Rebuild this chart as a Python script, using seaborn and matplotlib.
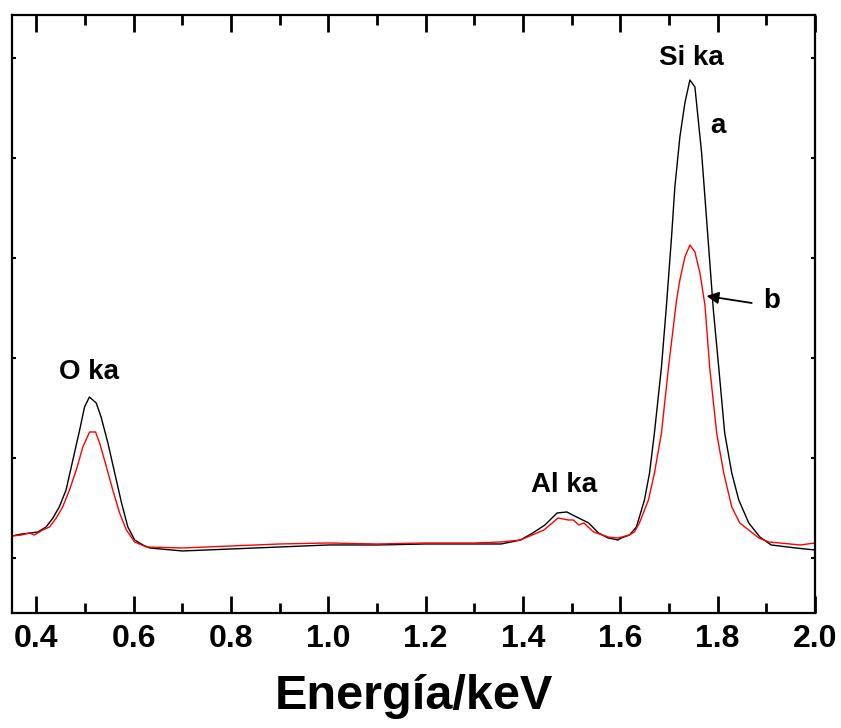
import numpy as np
import pandas as pd
import matplotlib
matplotlib.use("Agg")
import matplotlib.pyplot as plt
from matplotlib.ticker import MultipleLocator
import seaborn as sns

# Spectrum a (black)
energy_a = [0.35, 0.37, 0.389, 0.403, 0.420, 0.434, 0.447, 0.461, 0.475, 0.489, 0.499,
            0.509, 0.523, 0.533, 0.547, 0.561, 0.575, 0.588, 0.602, 0.619, 0.633,
            0.70, 0.75, 0.80, 0.90, 1.00, 1.10, 1.20, 1.30,
            1.355, 1.395, 1.42, 1.445, 1.47, 1.49, 1.51, 1.535, 1.555, 1.575, 1.595,
            1.602, 1.619, 1.633, 1.6495, 1.660, 1.670, 1.6845, 1.6948, 1.7052, 1.712,
            1.7223, 1.7326, 1.7429, 1.7532, 1.767, 1.7773, 1.7911, 1.8021, 1.8144,
            1.8289, 1.8433, 1.8639, 1.8866, 1.91, 1.96, 2.00]
counts_a = [77, 79, 80, 81, 86, 95, 106, 123, 153, 183, 206,
            216, 210, 196, 170, 140, 110, 86, 73, 68, 65,
            62, 63, 64, 66, 68, 68, 69, 69,
            69, 73, 80, 88, 100, 101, 96, 90, 80, 75, 73,
            75, 78, 86, 113, 140, 180, 246, 308, 376, 426,
            476, 510, 533, 526, 460, 393, 303, 246, 180,
            140, 113, 90, 76, 68, 65, 63]

# Spectrum b (red)
energy_b = [0.35, 0.37, 0.3856, 0.3959, 0.413, 0.427, 0.441, 0.454, 0.468, 0.482, 0.4955,
            0.5093, 0.5216, 0.530, 0.544, 0.557, 0.571, 0.585, 0.602, 0.626,
            0.70, 0.80, 0.90, 1.00, 1.10, 1.20, 1.30,
            1.355, 1.395, 1.443, 1.472, 1.493, 1.503, 1.515, 1.525, 1.545, 1.575, 1.595,
            1.6186, 1.6289, 1.6392, 1.6577, 1.6701, 1.6845, 1.699, 1.7155, 1.7223,
            1.7326, 1.7429, 1.7532, 1.7635, 1.7738, 1.7835, 1.7979, 1.8124, 1.8289,
            1.8454, 1.8845, 1.905, 1.97, 2.00]
counts_b = [77, 78, 80, 78, 83, 86, 95, 106, 123, 143, 166,
            181, 181, 170, 146, 123, 100, 83, 71, 66,
            65, 67, 69, 70, 69, 70, 70,
            71, 73, 83, 95, 93, 93, 88, 90, 81, 76, 75,
            78, 81, 90, 113, 140, 180, 246, 313, 333,
            356, 368, 361, 340, 308, 246, 180, 140, 106,
            90, 75, 71, 68, 70]

xticks = [0.4, 0.6, 0.8, 1.0, 1.2, 1.4, 1.6, 1.8, 2.0]
xticklabels = ["0.4", "0.6", "0.8", "1.0", "1.2", "1.4", "1.6", "1.8", "2.0"]

df = pd.concat([
    pd.DataFrame({"E": energy_a, "I": counts_a, "s": "a"}),
    pd.DataFrame({"E": energy_b, "I": counts_b, "s": "b"}),
])

sns.set_style("ticks")
plt.rcParams["font.family"] = ["Liberation Sans", "DejaVu Sans"]
plt.rcParams["text.color"] = "black"
plt.rcParams["xtick.color"] = "black"
plt.rcParams["ytick.color"] = "black"
plt.rcParams["axes.labelcolor"] = "black"

fig = plt.figure(figsize=(8.41, 7.28), dpi=100)
ax = fig.add_axes([0.0143, 0.158, 0.9548, 0.8214])

sns.lineplot(data=df, x="E", y="I", hue="s", palette={"a": "black", "b": "red"},
             sort=False, estimator=None, linewidth=1.0, legend=False, ax=ax)

ax.set_xlim(0.35, 2.0)
ax.set_ylim(0, 598)
ax.set_xticks(xticks)
ax.set_xticklabels(xticklabels, fontsize=23, fontweight="bold")
ax.xaxis.set_minor_locator(MultipleLocator(0.1))
ax.set_yticks([55, 155, 255, 355, 455, 555])
ax.set_yticklabels([])
ax.tick_params(axis="x", which="major", direction="in", length=12, width=2,
               top=True, bottom=True, pad=8, colors="black")
ax.tick_params(axis="x", which="minor", direction="in", length=7, width=2,
               top=True, bottom=True, colors="black")
ax.tick_params(axis="y", which="major", direction="in", length=3, width=1.5,
               left=True, right=True, colors="black")
for sp in ax.spines.values():
    sp.set_linewidth(1.6)
    sp.set_color("black")
    sp.set_visible(True)

ax.set_xlabel("Energía/keV", fontsize=35, fontweight="bold", labelpad=14, color="black")
ax.set_ylabel("")

tk = dict(fontsize=20, fontweight="bold", ha="center", va="center", color="black")
ax.text(0.509, 241, "O ka", **tk)
ax.text(1.485, 128, "Al ka", **tk)
ax.text(1.746, 555, "Si ka", **tk)
ax.text(1.800, 487, "a", **tk)
ax.text(1.911, 312, "b", **tk)
ax.annotate("", xy=(1.777, 317), xytext=(1.870, 310),
            arrowprops=dict(arrowstyle="-|>", color="black", lw=1.3,
                            mutation_scale=18, shrinkA=0, shrinkB=0))

fig.savefig("out.png", dpi=100)
